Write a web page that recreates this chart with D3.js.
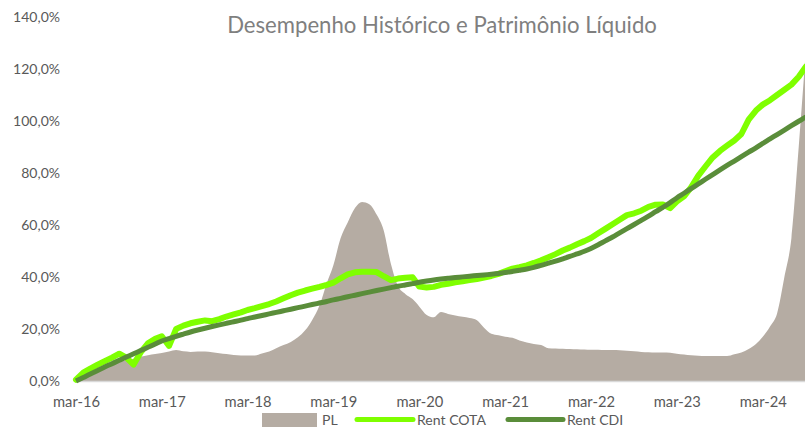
<!DOCTYPE html>
<html>
<head>
<meta charset="utf-8">
<script src="https://cdn.jsdelivr.net/npm/d3@7"></script>
<style>
  body { margin: 0; background: #fff; }
  svg { display: block; }
</style>
</head>
<body>
<svg id="chart" width="805" height="427"></svg>
<script>
// ---- data -------------------------------------------------------------
const chartTitle = "Desempenho Histórico e Patrimônio Líquido";
const firstMonth = new Date(2016, 2, 1);   // mar-16
const lastAxisDate = new Date(2024, 8, 1);

// cumulative fund return (%), monthly from mar-16
const cotaValues = [
  0.5, 3.2, 4.8, 6.3, 7.6, 9.0, 10.5, 9.0, 6.3, 11.0, 14.5, 16.2, 17.2,
  13.5, 20.0, 21.3, 22.2, 22.8, 23.3, 23.0, 23.8, 24.8, 25.6, 26.4, 27.3,
  28.0, 28.8, 29.6, 30.6, 31.8, 33.0, 34.0, 34.8, 35.5, 36.2, 37.0, 37.8,
  39.5, 41.0, 41.8, 42.0, 42.0, 41.9, 40.3, 38.8, 39.4, 39.7, 39.9, 36.3,
  36.0, 36.2, 37.0, 37.4, 38.0, 38.4, 38.8, 39.2, 39.8, 40.4, 41.2, 42.2,
  43.2, 43.8, 44.5, 45.4, 46.4, 47.6, 48.8, 50.2, 51.3, 52.6, 53.8, 55.0,
  56.8, 58.5, 60.3, 62.0, 63.8, 64.5, 65.5, 67.0, 67.8, 67.9, 66.5, 69.0,
  71.0, 74.5, 79.0, 82.5, 86.0, 88.5, 90.5, 92.5, 95.0, 100.5, 104.0, 106.3,
  108.0, 110.0, 112.0, 114.0, 117.0, 121.0
];

// cumulative CDI (%), monthly from mar-16
const cdiValues = [
  0, 1.35, 2.7, 4.0, 5.35, 6.65, 7.95, 9.2, 10.45, 11.7, 12.95, 14.2, 15.4,
  16.3, 17.2, 18.05, 18.85, 19.6, 20.3, 20.95, 21.6, 22.2, 22.8, 23.4, 24.0,
  24.6, 25.2, 25.8, 26.4, 27.0, 27.6, 28.2, 28.8, 29.4, 30.0, 30.6, 31.2,
  31.8, 32.4, 33.0, 33.6, 34.2, 34.8, 35.35, 35.9, 36.45, 36.95, 37.45, 38.0,
  38.45, 38.85, 39.2, 39.5, 39.8, 40.05, 40.3, 40.55, 40.8, 41.05, 41.35, 41.7,
  42.15, 42.6, 43.1, 43.7, 44.5, 45.3, 46.1, 47.0, 47.9, 48.9, 49.9, 51.0,
  52.4, 53.9, 55.4, 57.0, 58.6, 60.2, 61.8, 63.4, 65.1, 66.8, 68.6, 70.4,
  72.2, 74.0, 75.8, 77.6, 79.4, 81.2, 82.9, 84.6, 86.3, 88.0, 89.7, 91.4,
  93.1, 94.8, 96.5, 98.2, 99.9, 101.6
];

// net asset value (PL), relative units on the secondary (hidden) axis
const plValues = [
  2.0, 3.0, 4.0, 5.0, 6.0, 6.8, 7.4, 8.0, 8.6, 9.3, 9.9, 10.4, 10.8,
  11.3, 11.9, 11.4, 11.2, 11.3, 11.3, 11.1, 10.7, 10.4, 10.0, 9.8, 9.8,
  9.8, 10.6, 11.3, 12.6, 13.8, 15.0, 16.8, 19.5, 23.5, 29.0, 37.6, 44.5,
  55.0, 61.0, 66.5, 68.8, 68.0, 64.0, 58.0, 45.0, 36.5, 33.5, 31.5, 28.6,
  25.4, 24.5, 26.5, 25.8, 25.2, 24.7, 24.2, 23.4, 20.5, 18.2, 17.6, 17.0,
  16.6, 15.6, 14.8, 14.2, 13.8, 12.6, 12.5, 12.4, 12.3, 12.2, 12.1, 12.0,
  12.0, 11.9, 11.9, 11.8, 11.6, 11.4, 11.2, 11.1, 11.0, 11.0, 10.9, 10.5,
  10.2, 9.9, 9.7, 9.6, 9.6, 9.6, 9.6, 10.3, 11.0, 12.3, 14.2, 17.0,
  21.0, 26.0, 40.0, 55.0, 90.0, 128.0
];

const yTicks = [0, 20, 40, 60, 80, 100, 120, 140];
const xTickLabels = ["mar-16", "mar-17", "mar-18", "mar-19", "mar-20",
                     "mar-21", "mar-22", "mar-23", "mar-24"];
const seriesNames = ["PL", "Rent COTA", "Rent CDI"];

// ---- styling ----------------------------------------------------------
const FONT = "Lato, 'Open Sans', 'Noto Sans', sans-serif";
const COLORS = { pl: "#b5aca3", cota: "#7fff00", cdi: "#5a8d3a" };
const TEXT_COLOR = "#595959";

const svg = d3.select("#chart");
const months = d3.range(cotaValues.length).map(i => d3.timeMonth.offset(firstMonth, i));
const xTickDates = xTickLabels.map((_, i) => d3.timeYear.offset(firstMonth, i));

const x = d3.scaleTime().domain([firstMonth, lastAxisDate]).range([76, 806]);
const y = d3.scaleLinear().domain([0, 140]).range([381, 17]);
const yPL = d3.scaleLinear().domain([0, 140]).range([381, 17]);

const pctFormat = (() => {
  const loc = d3.formatLocale({ decimal: ",", thousands: ".", grouping: [3], currency: ["R$ ", ""] });
  const f = loc.format(".1f");
  return d => f(d) + "%";
})();

// font size that makes a sample string occupy a given width
function fitSize(sample, width, weight) {
  const t = svg.append("text").attr("font-family", FONT).attr("font-size", 100)
    .attr("font-weight", weight || 400).text(sample);
  const w = t.node().getComputedTextLength();
  t.remove();
  return 100 * width / w;
}

// ---- PL area (secondary axis) ------------------------------------------
const area = d3.area()
  .x((d, i) => x(months[i]))
  .y0(yPL(0))
  .y1(d => yPL(d))
  .curve(d3.curveMonotoneX);
svg.append("path").datum(plValues)
  .attr("d", area)
  .attr("fill", COLORS.pl);

// baseline
svg.append("line")
  .attr("x1", x(firstMonth)).attr("x2", 805)
  .attr("y1", y(0) + 0.5).attr("y2", y(0) + 0.5)
  .attr("stroke", "#d9d9d9").attr("stroke-width", 1.5);

// ---- lines ------------------------------------------------------------
const cotaLine = d3.line().x((d, i) => x(months[i])).y(d => y(d));
svg.append("path").datum(cotaValues)
  .attr("d", cotaLine)
  .attr("fill", "none").attr("stroke", COLORS.cota)
  .attr("stroke-width", 6).attr("stroke-linejoin", "round").attr("stroke-linecap", "round");

const cdiLine = d3.line().x((d, i) => x(months[i])).y(d => y(d)).curve(d3.curveMonotoneX);
svg.append("path").datum(cdiValues)
  .attr("d", cdiLine)
  .attr("fill", "none").attr("stroke", COLORS.cdi)
  .attr("stroke-width", 5).attr("stroke-linejoin", "round").attr("stroke-linecap", "butt");

// ---- axes -------------------------------------------------------------
const tickSize = fitSize("140,0%", 47);
const yAxis = svg.append("g").attr("transform", `translate(${x(firstMonth)},0)`)
  .call(d3.axisLeft(y).tickValues(yTicks).tickFormat(pctFormat).tickSize(0).tickPadding(16));
yAxis.select(".domain").remove();
yAxis.selectAll("text").attr("font-family", FONT).attr("font-size", tickSize).attr("fill", TEXT_COLOR);

const xSize = fitSize("mar-16", 47);
const xAxis = svg.append("g").attr("transform", `translate(0,${y(0)})`)
  .call(d3.axisBottom(x).tickValues(xTickDates).tickFormat((d, i) => xTickLabels[i]).tickSize(0).tickPadding(16));
xAxis.select(".domain").remove();
xAxis.selectAll("text").attr("font-family", FONT).attr("font-size", xSize).attr("fill", TEXT_COLOR);

// ---- title ------------------------------------------------------------
const titleSize = fitSize(chartTitle, 430);
svg.append("text")
  .attr("x", 442).attr("y", 32.5)
  .attr("text-anchor", "middle")
  .attr("font-family", FONT).attr("font-size", titleSize)
  .attr("fill", "#7f7f7f")
  .text(chartTitle);

// ---- legend -----------------------------------------------------------
const legSize = fitSize("Rent COTA", 69);
const legend = svg.append("g").attr("font-family", FONT).attr("font-size", legSize).attr("fill", TEXT_COLOR);
const legendItems = [
  { name: seriesNames[0], kind: "area", color: COLORS.pl, x0: 262, x1: 317, tx: 322 },
  { name: seriesNames[1], kind: "line", color: COLORS.cota, x0: 357, x1: 413, tx: 417, w: 5 },
  { name: seriesNames[2], kind: "line", color: COLORS.cdi, x0: 508, x1: 563, tx: 567, w: 5 }
];
legendItems.forEach(it => {
  if (it.kind === "area") {
    legend.append("rect").attr("x", it.x0).attr("y", 413).attr("width", it.x1 - it.x0).attr("height", 16)
      .attr("fill", it.color);
  } else {
    legend.append("line").attr("x1", it.x0).attr("x2", it.x1).attr("y1", 419.5).attr("y2", 419.5)
      .attr("stroke", it.color).attr("stroke-width", it.w).attr("stroke-linecap", "round");
  }
  legend.append("text").attr("x", it.tx).attr("y", 424.5).text(it.name);
});
</script>
</body>
</html>
